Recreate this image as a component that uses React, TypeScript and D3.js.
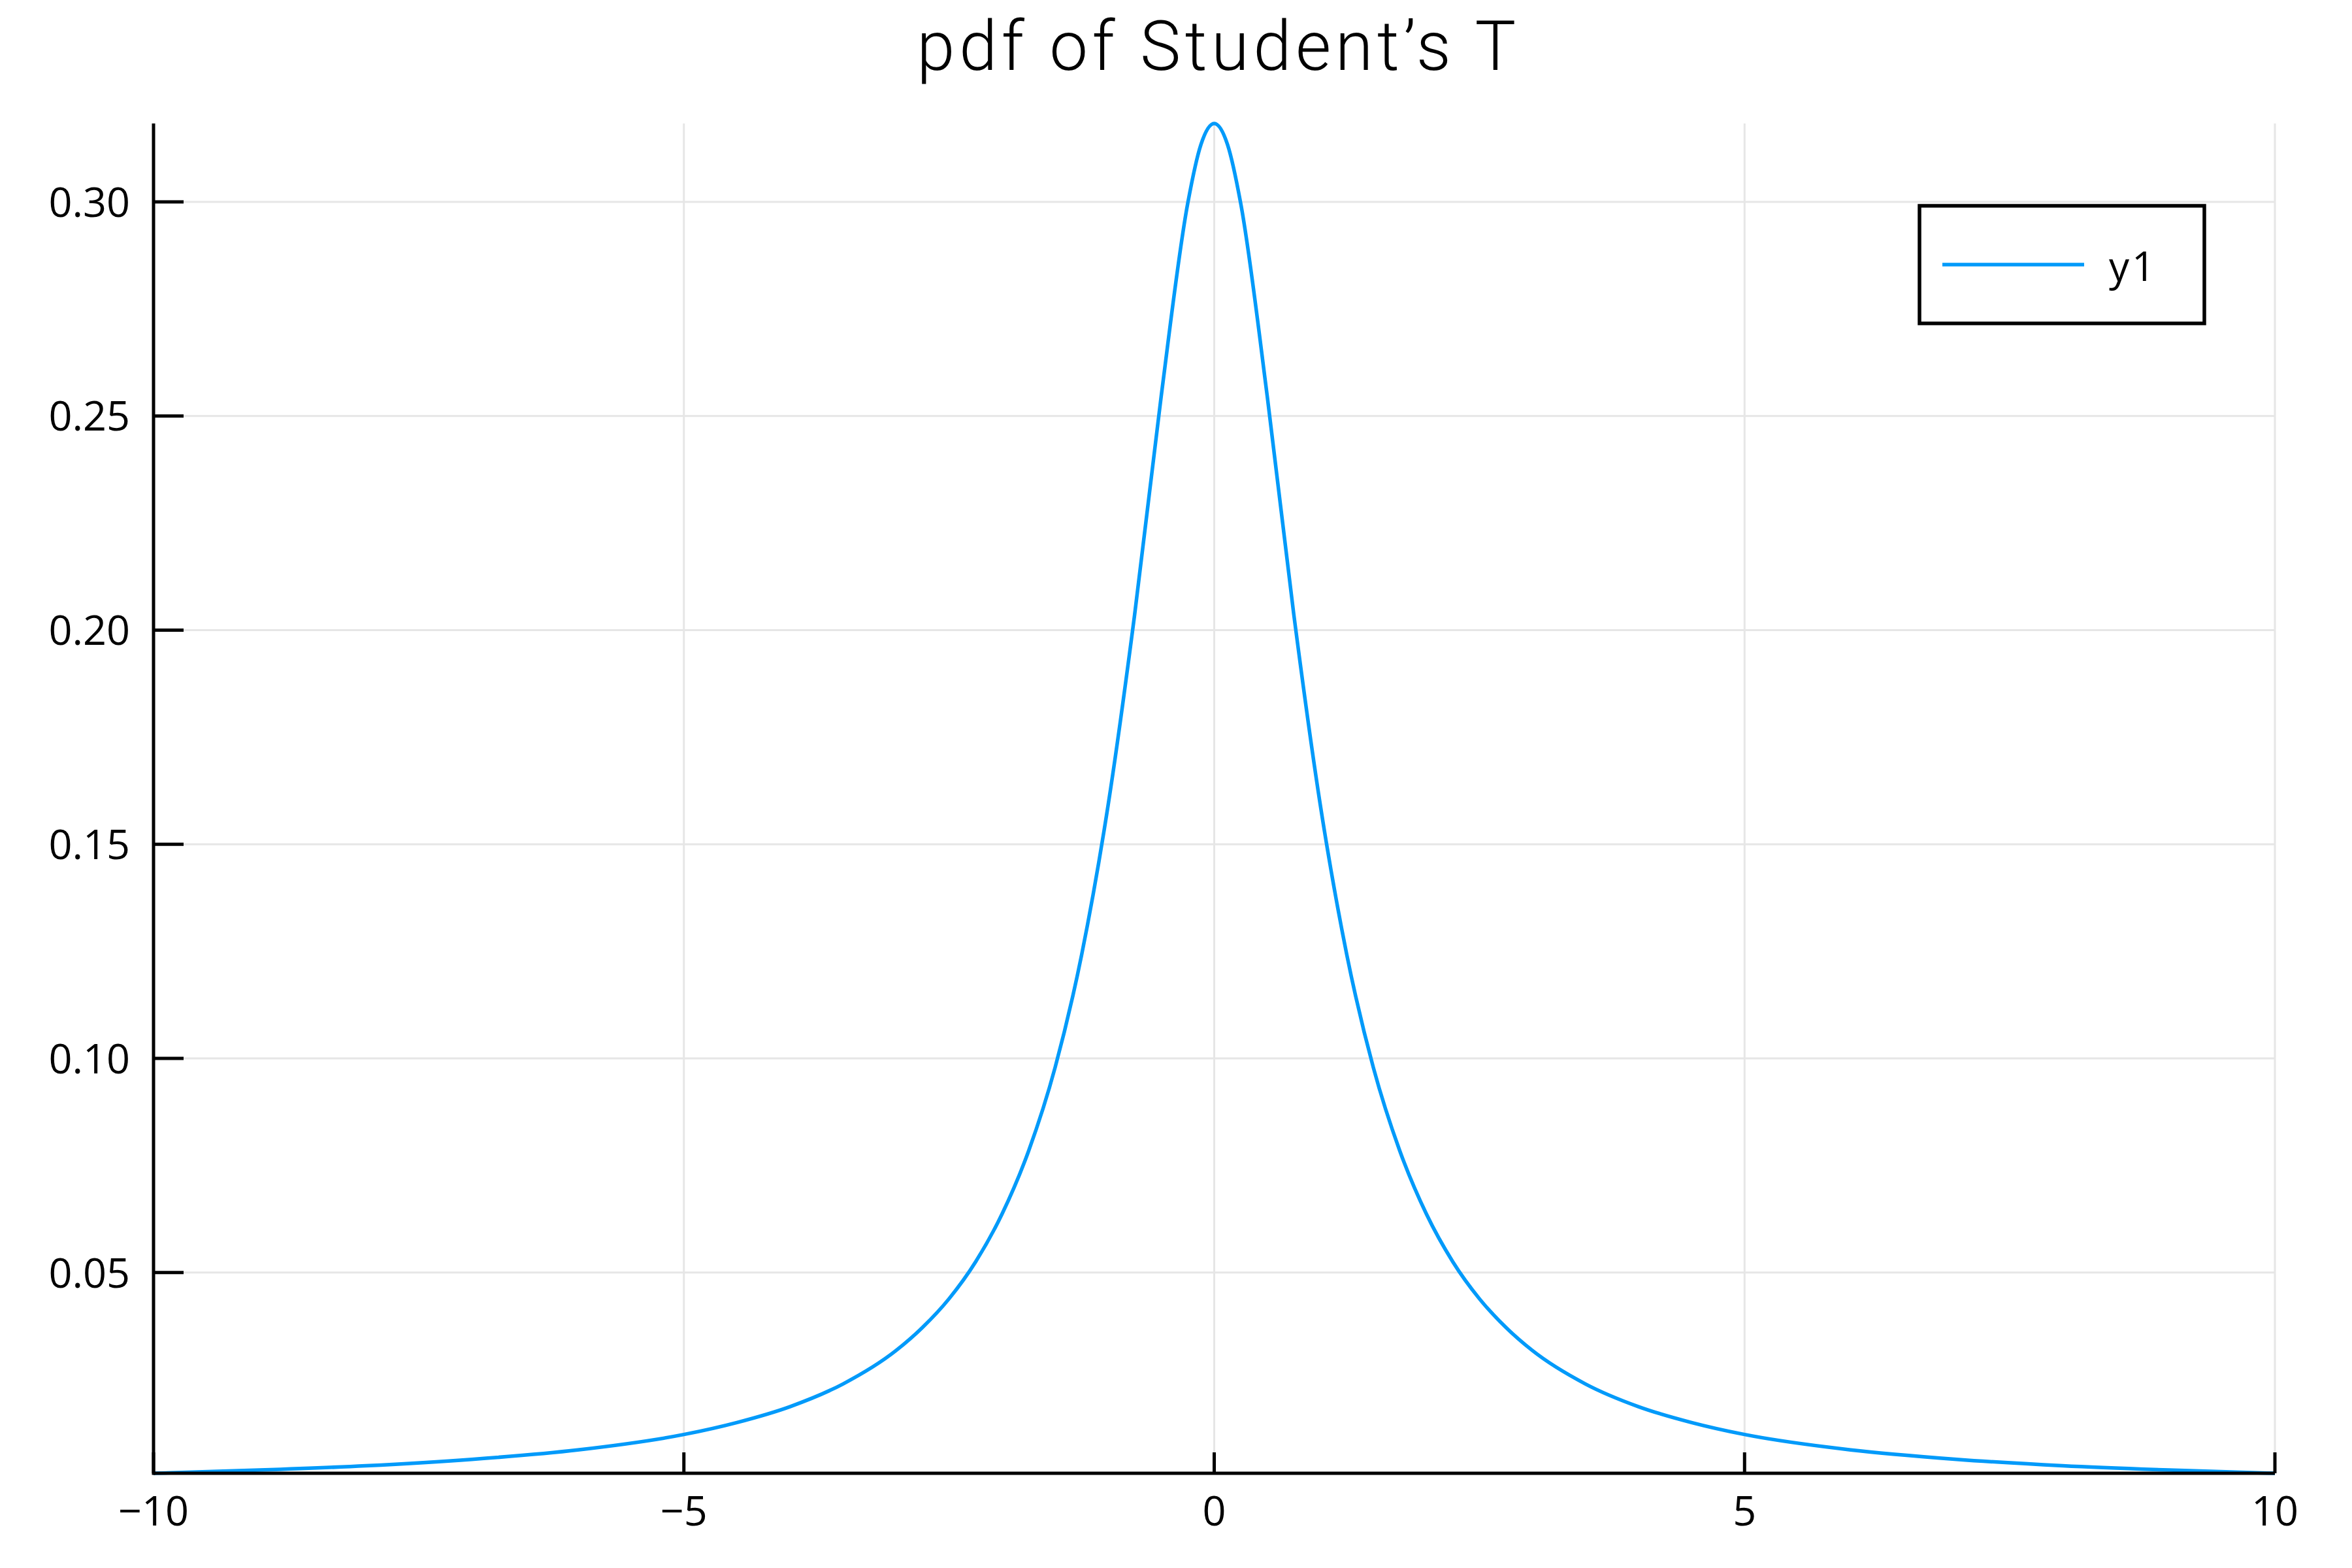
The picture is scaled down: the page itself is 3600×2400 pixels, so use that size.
import React from "react";
import * as d3 from "d3";

const xValues = [-10, -9, -8, -7, -6, -5, -4.5, -4, -3.5, -3, -2.75, -2.5, -2.25, -2, -1.75, -1.5, -1.25, -1, -0.75, -0.5, -0.25, -0.125, 0, 0.125, 0.25, 0.5, 0.75, 1, 1.25, 1.5, 1.75, 2, 2.25, 2.5, 2.75, 3, 3.5, 4, 4.5, 5, 6, 7, 8, 9, 10];
const yValues = [0.00315, 0.0039, 0.0049, 0.0064, 0.0086, 0.0122, 0.0150, 0.0187, 0.0240, 0.0318, 0.0372, 0.0439, 0.0525, 0.0637, 0.0784, 0.0979, 0.1242, 0.1592, 0.2037, 0.2546, 0.2996, 0.3134, 0.3183, 0.3134, 0.2996, 0.2546, 0.2037, 0.1592, 0.1242, 0.0979, 0.0784, 0.0637, 0.0525, 0.0439, 0.0372, 0.0318, 0.0240, 0.0187, 0.0150, 0.0122, 0.0086, 0.0064, 0.0049, 0.0039, 0.00315];
const xTicks = [-10, -5, 0, 5, 10];
const yTicks = [0.05, 0.1, 0.15, 0.2, 0.25, 0.3];
const seriesName = "y1";
const title = "pdf of Student\u2019s T";

const FONT = "'Open Sans', Roboto, sans-serif";
const TITLE_FONT = "Roboto, 'Open Sans', sans-serif";

export default function App() {
  const left = 235, right = 3482, top = 189, bottom = 2255;
  const x = d3.scaleLinear().domain([-10, 10]).range([left, right]);
  const y = d3.scaleLinear().domain(d3.extent(yValues) as [number, number]).range([bottom, top]);
  const pts = xValues.map((v, i) => [v, yValues[i]] as [number, number]);
  const line = d3.line<[number, number]>().x(d => x(d[0])).y(d => y(d[1])).curve(d3.curveMonotoneX);
  const fmtX = (v: number) => (v < 0 ? "\u2212" + Math.abs(v) : String(v));
  return (
    <svg width={3600} height={2400} style={{ position: "absolute", left: 0, top: 0, background: "#fff" }}>
      <rect x={0} y={0} width={3600} height={2400} fill="#fff" />
      {/* grid */}
      {xTicks.map(t => (
        <line key={"gx" + t} x1={x(t)} x2={x(t)} y1={top} y2={bottom} stroke="#e6e6e6" strokeWidth={3} />
      ))}
      {yTicks.map(t => (
        <line key={"gy" + t} x1={left} x2={right} y1={y(t)} y2={y(t)} stroke="#e6e6e6" strokeWidth={3} />
      ))}
      {/* curve */}
      <path d={line(pts) || ""} fill="none" stroke="#009AFA" strokeWidth={5.5} strokeLinejoin="round" />
      {/* axes */}
      <line x1={left} x2={left} y1={top} y2={bottom + 2.5} stroke="#000" strokeWidth={5} />
      <line x1={left} x2={right} y1={bottom} y2={bottom} stroke="#000" strokeWidth={5} />
      {yTicks.map(t => (
        <g key={"ty" + t}>
          <line x1={left} x2={left + 46} y1={y(t)} y2={y(t)} stroke="#000" strokeWidth={5} />
          <text x={199} y={y(t)} dy="0.36em" textAnchor="end" fontFamily={FONT} fontSize={63} fill="#000">
            {t.toFixed(2)}
          </text>
        </g>
      ))}
      {xTicks.map(t => (
        <g key={"tx" + t}>
          <line x1={x(t)} x2={x(t)} y1={bottom} y2={bottom - 32} stroke="#000" strokeWidth={5} />
          <text x={x(t)} y={2335} textAnchor="middle" fontFamily={FONT} fontSize={63} fill="#000">
            {fmtX(t)}
          </text>
        </g>
      ))}
      {/* title */}
      <text x={1865} y={107} textAnchor="middle" letterSpacing={6.5} fontFamily={TITLE_FONT} fontWeight={300} fontSize={105} fill="#000">
        {title}
      </text>
      {/* legend */}
      <rect x={2938} y={315} width={436} height={180} fill="#fff" stroke="#000" strokeWidth={5.5} />
      <line x1={2973} x2={3190} y1={405} y2={405} stroke="#009AFA" strokeWidth={5.5} />
      <text x={3228} y={430} letterSpacing={4} fontFamily={FONT} fontSize={62} fill="#000">{seriesName}</text>
    </svg>
  );
}
